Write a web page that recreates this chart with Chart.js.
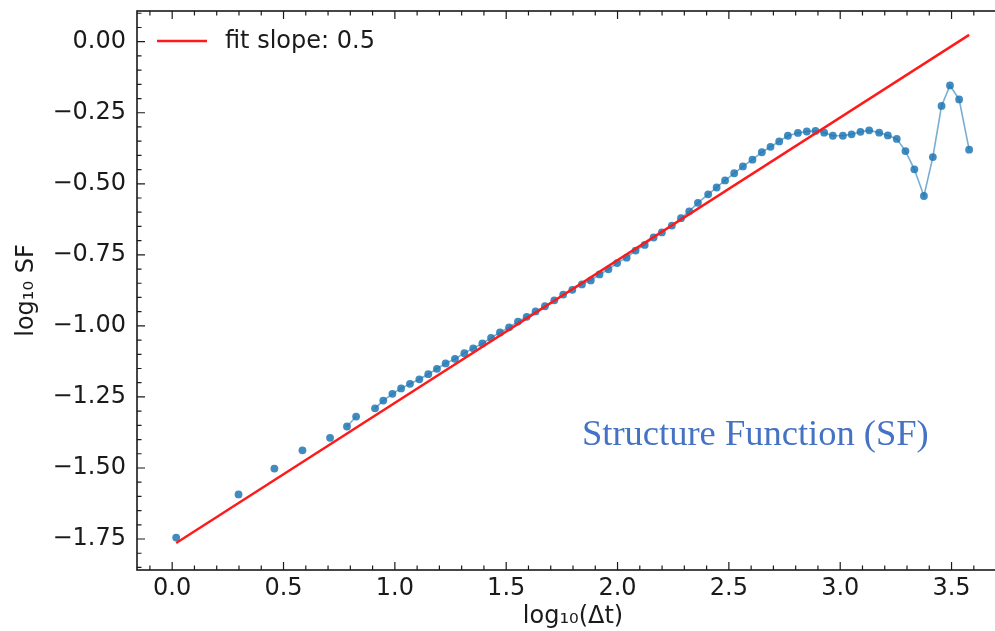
<!DOCTYPE html>
<html lang="en">
<head>
<meta charset="utf-8" />
<title>Structure Function</title>
<script src="https://cdn.jsdelivr.net/npm/chart.js@4.4.1/dist/chart.umd.min.js"></script>
<style>
  html, body { margin: 0; padding: 0; background: #fff; overflow: hidden; }
  #wrap { position: relative; width: 995px; height: 631px; overflow: hidden; }
  #sf { position: absolute; left: 0; top: 0; }
  .note { position: absolute; left: 582px; top: 415px; font-family: "Liberation Serif", serif; font-size: 36.5px; line-height: 1; color: #4472c4; white-space: nowrap; }
</style>
</head>
<body>
<div id="wrap">
  <canvas id="sf" width="1020" height="631"></canvas>
  <div class="note">Structure Function (SF)</div>
</div>
<script>
// binned structure function, null = empty bin (line breaks there)
var logDt = [
  0.018, 0.16, 0.298, 0.38, 0.459, 0.52, 0.585, 0.65, 0.709, 0.75, 0.785, 0.826, 0.87,
  0.911, 0.948, 0.989, 1.028, 1.068, 1.110, 1.150, 1.189, 1.228, 1.270,
  1.312, 1.352, 1.393, 1.432, 1.472, 1.513, 1.553, 1.592, 1.632, 1.674,
  1.716, 1.756, 1.797, 1.840, 1.880, 1.919, 1.959, 1.998, 2.041, 2.081,
  2.122, 2.162, 2.199, 2.244, 2.285, 2.322, 2.361, 2.407, 2.445, 2.483,
  2.524, 2.563, 2.606, 2.648, 2.687, 2.726, 2.765, 2.810, 2.850, 2.889,
  2.928, 2.967, 3.012, 3.051, 3.091, 3.130, 3.175, 3.214, 3.254, 3.293,
  3.333, 3.376, 3.416, 3.455, 3.493, 3.534, 3.579
];
var logSF = [
  -1.745, null, -1.593, null, -1.502, null, -1.438, null, -1.394, null, -1.354, -1.319, null,
  -1.290, -1.263, -1.239, -1.220, -1.204, -1.188, -1.170, -1.151, -1.132, -1.116,
  -1.096, -1.079, -1.062, -1.042, -1.023, -1.005, -0.985, -0.968, -0.949, -0.931,
  -0.910, -0.890, -0.873, -0.854, -0.840, -0.819, -0.801, -0.779, -0.760, -0.735,
  -0.715, -0.689, -0.671, -0.647, -0.621, -0.597, -0.567, -0.537, -0.513, -0.488,
  -0.463, -0.439, -0.415, -0.389, -0.370, -0.351, -0.331, -0.321, -0.316, -0.314,
  -0.320, -0.331, -0.331, -0.326, -0.317, -0.312, -0.320, -0.330, -0.342, -0.385,
  -0.449, -0.543, -0.406, -0.226, -0.154, -0.203, -0.380
];

// fitted line, slope 0.5
var fitLabel = 'fit slope: 0.5';
var fitDt = [0.018, 3.579];
var fitSF = [-1.764, 0.024];

var xTicks = [0, 0.5, 1, 1.5, 2, 2.5, 3, 3.5];
var xTickLabels = ['0.0', '0.5', '1.0', '1.5', '2.0', '2.5', '3.0', '3.5'];
var yTicks = [-1.75, -1.5, -1.25, -1, -0.75, -0.5, -0.25, 0];
var yTickLabels = ['\u22121.75', '\u22121.50', '\u22121.25', '\u22121.00', '\u22120.75', '\u22120.50', '\u22120.25', '0.00'];

var FONT = '"DejaVu Sans", sans-serif';
var RED = '#ff1a1a';

function points(xs, ys) {
    return xs.map(function (x, i) { return { x: x, y: ys[i] }; });
}

// matplotlib style frame: spines, inward major/minor ticks, legend entry
var axesFrame = {
    id: 'axesFrame',
    afterDraw: function (chart) {
        var ctx = chart.ctx, a = chart.chartArea;
        var sx = chart.scales.x, sy = chart.scales.y;
        var i, p, len;
        ctx.save();
        ctx.strokeStyle = '#1a1a1a';
        ctx.lineWidth = 1.2;
        ctx.beginPath();
        for (i = -1; i <= 37; i++) {
            p = sx.getPixelForValue(i / 10);
            len = (i % 5 === 0) ? 8 : 4.5;
            ctx.moveTo(p, a.bottom); ctx.lineTo(p, a.bottom - len);
            ctx.moveTo(p, a.top); ctx.lineTo(p, a.top + len);
        }
        for (i = -37; i <= 2; i++) {
            p = sy.getPixelForValue(i * 0.05);
            len = (i % 5 === 0) ? 8 : 4.5;
            ctx.moveTo(a.left, p); ctx.lineTo(a.left + len, p);
            ctx.moveTo(a.right, p); ctx.lineTo(a.right - len, p);
        }
        ctx.stroke();
        ctx.lineWidth = 1.6;
        ctx.strokeRect(a.left, a.top, a.right - a.left, a.bottom - a.top);

        // legend (upper left, no frame)
        var ly = a.top + 30;
        ctx.strokeStyle = RED;
        ctx.lineWidth = 2.4;
        ctx.beginPath();
        ctx.moveTo(a.left + 20, ly); ctx.lineTo(a.left + 70, ly);
        ctx.stroke();
        ctx.fillStyle = '#1a1a1a';
        ctx.font = '24px ' + FONT;
        ctx.textBaseline = 'middle';
        ctx.textAlign = 'left';
        ctx.fillText(fitLabel, a.left + 88, ly + 1);
        ctx.restore();
    }
};

Chart.defaults.font.family = FONT;
Chart.defaults.font.size = 24;
Chart.defaults.color = '#1a1a1a';

new Chart(document.getElementById('sf'), {
    type: 'line',
    data: {
        datasets: [
            {
                label: fitLabel,
                data: points(fitDt, fitSF),
                borderColor: RED,
                backgroundColor: RED,
                borderWidth: 2.4,
                pointRadius: 0
            },
            {
                label: 'SF',
                data: points(logDt, logSF),
                borderColor: 'rgba(31,119,180,0.6)',
                borderWidth: 1.6,
                pointRadius: 3.9,
                pointBorderWidth: 0,
                pointBackgroundColor: 'rgba(31,119,180,0.85)',
                spanGaps: false
            }
        ]
    },
    options: {
        responsive: false,
        animation: false,
        layout: { padding: { left: 0, top: 11, right: 11, bottom: 0 } },
        scales: {
            x: {
                type: 'linear',
                min: -0.158,
                max: 3.758,
                grid: { display: false, drawTicks: false },
                border: { display: false },
                afterFit: function (s) { s.height = 61; },
                afterBuildTicks: function (s) { s.ticks = xTicks.map(function (v) { return { value: v }; }); },
                ticks: {
                    padding: 4,
                    callback: function (v, i) { return xTickLabels[i]; }
                },
                title: { display: true, text: 'log\u2081\u2080(\u0394t)', padding: { top: 0, bottom: 0 } }
            },
            y: {
                min: -1.859,
                max: 0.108,
                grid: { display: false, drawTicks: false },
                border: { display: false },
                afterFit: function (s) { s.width = 137; s.paddingTop = 0; s.paddingBottom = 0; },
                afterBuildTicks: function (s) { s.ticks = yTicks.map(function (v) { return { value: v }; }); },
                ticks: {
                    padding: 11,
                    callback: function (v, i) { return yTickLabels[i]; }
                },
                title: { display: true, text: 'log\u2081\u2080 SF', padding: { top: 12, bottom: 0 } }
            }
        },
        plugins: {
            tooltip: { enabled: false },
            legend: { display: false }
        }
    },
    plugins: [axesFrame]
});
</script>
</body>
</html>
